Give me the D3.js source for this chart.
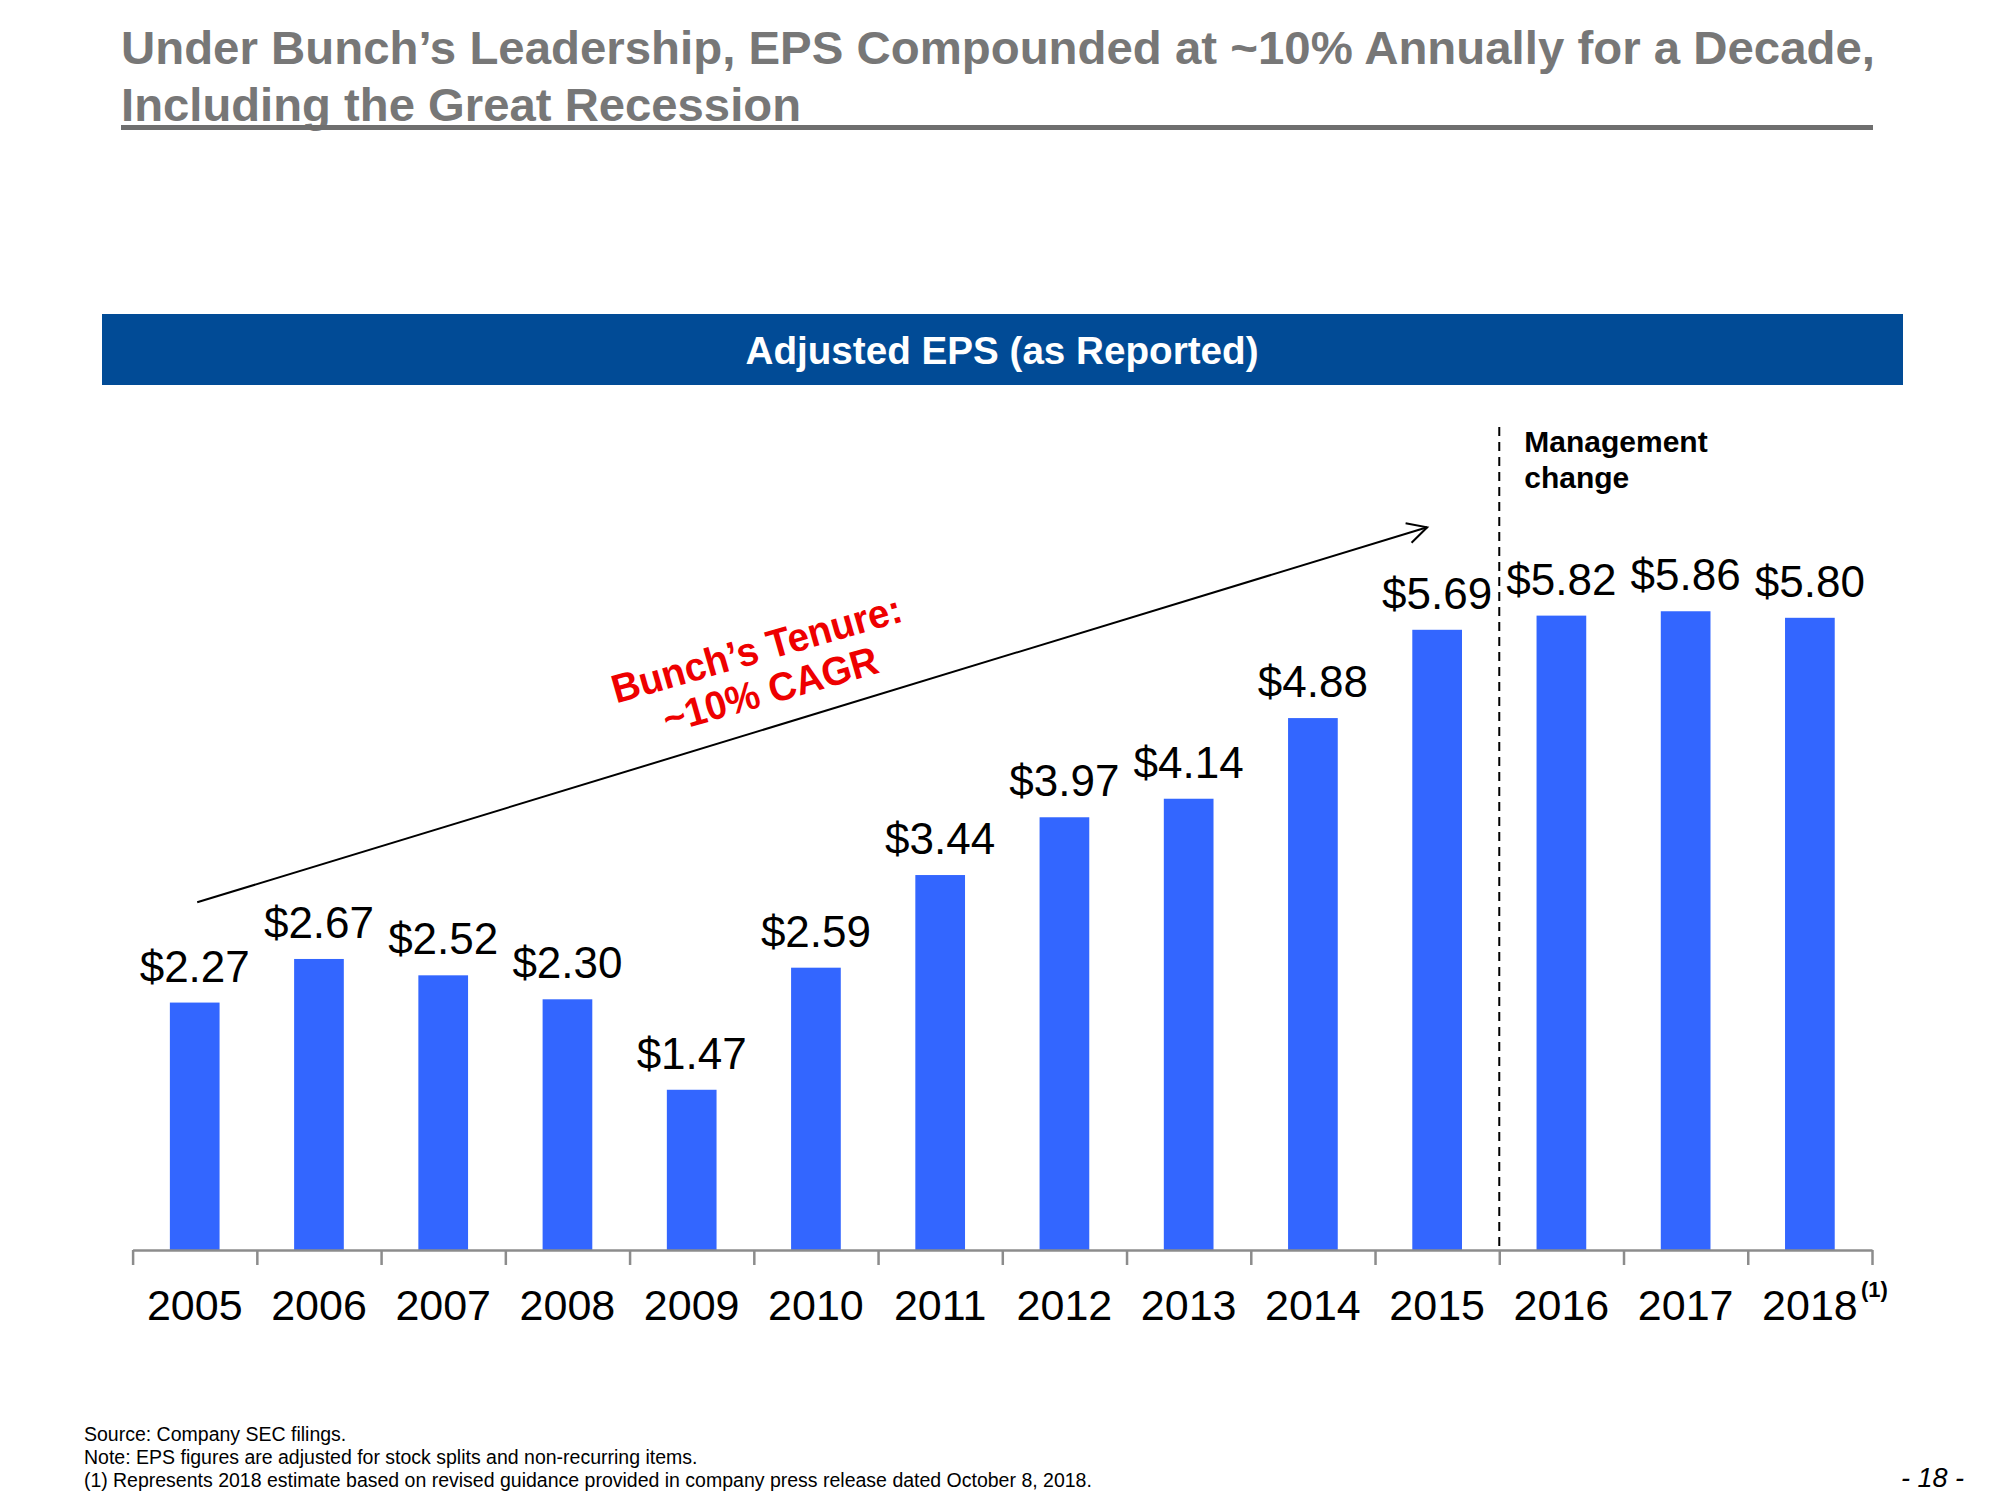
<!DOCTYPE html>
<html>
<head>
<meta charset="utf-8">
<script src="https://cdnjs.cloudflare.com/ajax/libs/d3/7.8.5/d3.min.js"></script>
<style>
  html, body { margin: 0; padding: 0; background: #fff; }
  svg { display: block; font-family: "Liberation Sans", Arial, Helvetica, sans-serif; }
</style>
</head>
<body>
<svg id="chart" width="2000" height="1500"></svg>
<script>
// ---- data ----
const years = ["2005","2006","2007","2008","2009","2010","2011","2012","2013","2014","2015","2016","2017","2018"];
const eps = [2.27, 2.67, 2.52, 2.30, 1.47, 2.59, 3.44, 3.97, 4.14, 4.88, 5.69, 5.82, 5.86, 5.80];
const titleLines = ["Under Bunch\u2019s Leadership, EPS Compounded at ~10% Annually for a Decade,", "Including the Great Recession"];
const bannerText = "Adjusted EPS (as Reported)";
const tenureText = ["Bunch\u2019s Tenure:", "~10% CAGR"];
const mgmtText = ["Management", "change"];
const footnotes = ["Source: Company SEC filings.", "Note: EPS figures are adjusted for stock splits and non-recurring items."];
const footnote1 = ["(1)", "Represents 2018 estimate based on revised guidance provided in company press release dated October 8, 2018."];
const pageNum = "- 18 -";
// annotation anchors in data space (slot index, value)
const arrowStart = [0.52, 3.19];
const arrowEnd = [10.42, 6.63];
const mgmtBoundary = 11;   // slot boundary between 2015 and 2016
const dashTop = 7.55;

const svg = d3.select("#chart");

// ---- title ----
const title = svg.append("g").attr("fill", "#777777").attr("font-weight", "bold").attr("font-size", 47);
title.append("text").attr("x", 121).attr("y", 64).attr("textLength", 1754).attr("lengthAdjust", "spacingAndGlyphs").text(titleLines[0]);
title.append("text").attr("x", 121).attr("y", 121).attr("textLength", 680).attr("lengthAdjust", "spacingAndGlyphs").text(titleLines[1]);
svg.append("rect").attr("x", 121).attr("y", 125).attr("width", 1752).attr("height", 5).attr("fill", "#6f6f6f");

// ---- banner ----
svg.append("rect").attr("x", 102).attr("y", 314).attr("width", 1801).attr("height", 71).attr("fill", "#014b96");
svg.append("text").attr("x", 1002).attr("y", 364).attr("text-anchor", "middle")
  .attr("fill", "#fff").attr("font-weight", "bold").attr("font-size", 38)
  .attr("textLength", 513).attr("lengthAdjust", "spacingAndGlyphs").text(bannerText);

// ---- scales ----
const left = 132.6, right = 1872, base = 1250;
const x = d3.scaleBand().domain(years).range([left, right]).paddingInner(0.6).paddingOuter(0.3);
const xi = d3.scaleLinear().domain([0, years.length]).range([left, right]);
const y = d3.scaleLinear().domain([0, 6]).range([base, base - 6 * 109]);

// ---- bars ----
svg.append("g").selectAll("rect").data(eps).join("rect")
  .attr("x", (d, i) => x(years[i]))
  .attr("width", x.bandwidth())
  .attr("y", d => y(d))
  .attr("height", d => y(0) - y(d))
  .attr("fill", "#3366ff");

// ---- value labels ----
svg.append("g").attr("font-size", 44).attr("fill", "#000").attr("text-anchor", "middle")
  .selectAll("text").data(eps).join("text")
  .attr("x", (d, i) => x(years[i]) + x.bandwidth() / 2)
  .attr("y", d => y(d) - 21)
  .text(d => "$" + d.toFixed(2));

// ---- axis ----
const axisG = svg.append("g").attr("transform", `translate(0,${base})`)
  .call(d3.axisBottom(xi).tickValues(d3.range(years.length + 1)).tickSize(15).tickSizeOuter(0).tickFormat(""));
axisG.select(".domain").attr("stroke", "#8c8c8c").attr("stroke-width", 2.5);
axisG.selectAll(".tick line").attr("stroke", "#8c8c8c").attr("stroke-width", 2.5);

const labG = svg.append("g").attr("transform", `translate(0,${base})`)
  .call(d3.axisBottom(x).tickSize(0).tickPadding(0));
labG.select(".domain").remove();
labG.selectAll(".tick text").attr("font-size", 43).attr("fill", "#000")
  .attr("font-family", "Liberation Sans, Arial, sans-serif")
  .attr("y", 70).attr("dy", 0);
labG.selectAll(".tick").filter(d => d === "2018").append("text")
  .attr("x", 51).attr("y", 47).attr("font-size", 22).attr("font-weight", "bold")
  .attr("fill", "#000").attr("text-anchor", "start")
  .attr("font-family", "Liberation Sans, Arial, sans-serif").text("(1)");

// ---- management change dashed line ----
svg.append("line")
  .attr("x1", xi(mgmtBoundary)).attr("x2", xi(mgmtBoundary))
  .attr("y1", y(dashTop)).attr("y2", base)
  .attr("stroke", "#000").attr("stroke-width", 2).attr("stroke-dasharray", "9,6");
const mg = svg.append("text").attr("font-weight", "bold").attr("font-size", 30).attr("fill", "#000");
mgmtText.forEach((t, i) => mg.append("tspan").attr("x", xi(mgmtBoundary) + 25).attr("y", 452 + i * 36).text(t));

// ---- arrow ----
const ax1 = xi(arrowStart[0]), ay1 = y(arrowStart[1]);
const ax2 = xi(arrowEnd[0]), ay2 = y(arrowEnd[1]);
svg.append("line").attr("x1", ax1).attr("y1", ay1).attr("x2", ax2).attr("y2", ay2)
  .attr("stroke", "#000").attr("stroke-width", 2);
const ang = Math.atan2(ay2 - ay1, ax2 - ax1);
const headLen = 22, headAng = Math.PI / 6.5;
const headPts = [
  [ax2 - headLen * Math.cos(ang - headAng), ay2 - headLen * Math.sin(ang - headAng)],
  [ax2, ay2],
  [ax2 - headLen * Math.cos(ang + headAng), ay2 - headLen * Math.sin(ang + headAng)]
];
svg.append("path").attr("d", d3.line()(headPts)).attr("fill", "none").attr("stroke", "#000").attr("stroke-width", 2);

// ---- tenure annotation ----
const tg = svg.append("g").attr("transform", "translate(762,668) rotate(-16)")
  .attr("fill", "#ee0000").attr("font-weight", "bold").attr("font-size", 40).attr("text-anchor", "middle");
tg.append("text").attr("x", 0).attr("y", -6).attr("textLength", 300).attr("lengthAdjust", "spacingAndGlyphs").text(tenureText[0]);
tg.append("text").attr("x", 2).attr("y", 37).attr("textLength", 222).attr("lengthAdjust", "spacingAndGlyphs").text(tenureText[1]);

// ---- footnotes ----
const fg = svg.append("g").attr("font-size", 19.5).attr("fill", "#000");
footnotes.forEach((t, i) => fg.append("text").attr("x", 84).attr("y", 1441 + i * 23).text(t));
fg.append("text").attr("x", 84).attr("y", 1487).text(footnote1[0]);
fg.append("text").attr("x", 113).attr("y", 1487).text(footnote1[1]);

svg.append("text").attr("x", 1964).attr("y", 1487).attr("text-anchor", "end")
  .attr("font-size", 27).attr("font-style", "italic").attr("fill", "#000").text(pageNum);
</script>
</body>
</html>
